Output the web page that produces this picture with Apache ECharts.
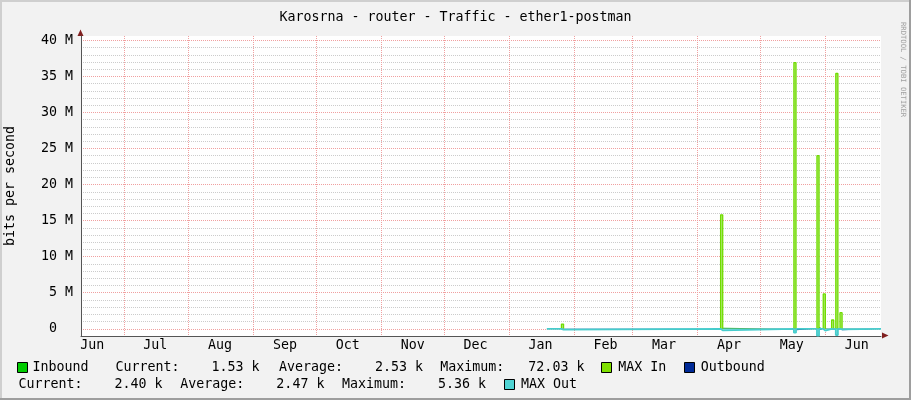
<!DOCTYPE html>
<html><head><meta charset="utf-8">
<script src="https://cdn.jsdelivr.net/npm/echarts@6/dist/echarts.min.js"></script>
<style>html,body{margin:0;padding:0;background:#f2f2f2;overflow:hidden}#c{width:911px;height:400px}</style>
</head><body><div id="c"></div>
<script>
// ---------------- data ----------------
const chartTitle = 'Karosrna - router - Traffic - ether1-postman';
const yAxisName = 'bits per second';
const sideNote = 'RRDTOOL / TOBI OETIKER';

const axisStart = '2024-06-10T14:00';
const axisEnd = '2025-06-27T14:00';
const monthStarts = ['2024-07-01','2024-08-01','2024-09-01','2024-10-01','2024-11-01','2024-12-01',
  '2025-01-01','2025-02-01','2025-03-01','2025-04-01','2025-05-01','2025-06-01'];
const monthLabelDates = ['2024-06-16','2024-07-16','2024-08-16','2024-09-16','2024-10-16','2024-11-16',
  '2024-12-16','2025-01-16','2025-02-16','2025-03-16','2025-04-16','2025-05-16','2025-06-16'];
const monthLabels = ['Jun','Jul','Aug','Sep','Oct','Nov','Dec','Jan','Feb','Mar','Apr','May','Jun'];

const yMajorValues = [0, 5e6, 10e6, 15e6, 20e6, 25e6, 30e6, 35e6, 40e6];
const yMajorLabels = ['0  ', '5 M', '10 M', '15 M', '20 M', '25 M', '30 M', '35 M', '40 M'];

// daily consolidated samples; each value holds until the next date (bits per second)
const trafficDates = ['2025-01-19','2025-01-26','2025-01-27','2025-04-12','2025-04-13','2025-05-17',
  '2025-05-18','2025-05-28','2025-05-29','2025-05-31','2025-06-01','2025-06-04','2025-06-05',
  '2025-06-06','2025-06-07','2025-06-08','2025-06-09','2025-06-27T14:00'];
const inboundAvg = [2500, 20000, 2500, 150000, 2500, 300000, 2500, 250000, 2500, 80000, 2500,
  20000, 2500, 300000, 2500, 40000, 2500, 1530];
const outboundAvg = [-2400, -90000, -2400, -200000, -2400, -200000, -2400, -200000, -2400, -200000, -2400,
  -60000, -2400, -200000, -2400, -200000, -2400, -2400];
const maxOut = [-5360, -120000, -5360, -220000, -5360, -540000, -5360, -960000, -5360, -260000, -5360,
  -60000, -5360, -860000, -5360, -80000, -5360, -5360];
// MAX In peaks (days above the ~3 k baseline), one consolidated day each
const maxInDates = ['2025-01-26','2025-04-12','2025-05-17','2025-05-28','2025-05-31','2025-06-04',
  '2025-06-06','2025-06-08'];
const maxInValues = [650000, 15800000, 36900000, 24000000, 4830000, 1220000, 35400000, 2240000];

const inboundStats = ['1.53 k', '2.53 k', '72.03 k'];
const outboundStats = ['2.40 k', '2.47 k', '5.36 k'];

// ---------------- helpers ----------------
const DAY = 86400000;
const ts = s => Date.parse(s.length === 10 ? s + 'T00:00:00Z' : s + ':00Z');
// hold each sample until the next sample time (RRD-style steps)
function holdSteps(arr) {
  const out = [];
  for (let i = 0; i < trafficDates.length - 1; i++) {
    out.push([ts(trafficDates[i]), arr[i]], [ts(trafficDates[i + 1]), arr[i]]);
  }
  return out;
}
const maxInData = [];
maxInDates.forEach((d, i) => {
  const t = ts(d);
  maxInData.push([t, 0], [t, maxInValues[i]], [t + DAY, maxInValues[i]], [t + DAY, 0], [t + DAY, null]);
});
const FONT = '"DejaVu Sans Mono", monospace';
const fnt = (sz) => sz + 'px ' + FONT;
const stat = (label, v) => label + v.padStart(10, ' ');
const labelTs = monthLabelDates.map(ts);

const chart = echarts.init(document.getElementById('c'), null, {renderer: 'canvas'});

function txt(x, y, text, extra) {
  return Object.assign({type: 'text', x: x, y: y, silent: true,
    style: {text: text, font: fnt(13.3), fill: '#000', verticalAlign: 'middle', textVerticalAlign: 'middle',
      align: 'left', textAlign: 'left'}}, extra || {});
}
function box(x, y, color) {
  return {type: 'rect', silent: true, shape: {x: x, y: y, width: 10, height: 10},
    style: {fill: color, stroke: '#000', lineWidth: 1}};
}
const COL = {inbound: '#00cc00', maxIn: '#7fe000', outbound: '#002a97', maxOut: '#50d4d4'};

const option = {
  animation: false,
  backgroundColor: '#f2f2f2',
  title: {text: chartTitle, left: 'center', top: 6,
    textStyle: {fontFamily: FONT, fontSize: 13.3, fontWeight: 'normal', color: '#000'}},
  grid: {left: 81, right: 30, top: 36, height: 300, show: true, backgroundColor: '#ffffff', borderWidth: 0,
    outerBoundsMode: 'none', containLabel: false},
  xAxis: {
    type: 'value', min: ts(axisStart), max: ts(axisEnd),
    axisLine: {show: true, onZero: false, lineStyle: {color: '#555', width: 1}},
    axisTick: {show: false, customValues: monthStarts.map(ts)},
    splitLine: {show: true, lineStyle: {color: '#f0a0a0', type: [1, 1], width: 1}},
    axisLabel: {customValues: labelTs, margin: 3, fontFamily: FONT, fontSize: 13.3, color: '#000',
      formatter: function (v) { const i = labelTs.indexOf(v); return i >= 0 ? monthLabels[i] : ''; }}
  },
  yAxis: {
    type: 'value', min: -1e6, max: 40.6e6, interval: 1e6,
    name: yAxisName, nameLocation: 'middle', nameRotate: 90, nameGap: 64,
    nameTextStyle: {fontFamily: FONT, fontSize: 13.3, color: '#000'},
    axisLine: {show: true, lineStyle: {color: '#555', width: 1}},
    axisTick: {show: false},
    splitLine: {show: true, showMaxLine: false,
      lineStyle: {color: ['#cccccc', '#f0a0a0', '#cccccc', '#cccccc', '#cccccc'], type: [1, 1], width: 1}},
    axisLabel: {margin: 8, fontFamily: FONT, fontSize: 13.3, color: '#000',
      formatter: function (v) { const i = yMajorValues.indexOf(Math.round(v)); return i >= 0 ? yMajorLabels[i] : ''; }}
  },
  series: [
    {name: 'Inbound', type: 'line', data: holdSteps(inboundAvg), showSymbol: false,
      lineStyle: {width: 0}, areaStyle: {color: COL.inbound, opacity: 1}},
    {name: 'MAX In', type: 'line', data: maxInData, showSymbol: false, connectNulls: false,
      lineStyle: {width: 1.3, color: '#70dc00'}, areaStyle: {color: '#b4ea78', opacity: 1}},
    {name: 'Outbound', type: 'line', data: holdSteps(outboundAvg), showSymbol: false,
      lineStyle: {width: 0}, areaStyle: {color: COL.outbound, opacity: 1}},
    {name: 'MAX Out', type: 'line', data: holdSteps(maxOut), showSymbol: false, z: 3,
      lineStyle: {width: 1.8, color: '#46cccc'}, areaStyle: {color: '#9fe4e4', opacity: 1}}
  ],
  graphic: {elements: [
    {type: 'rect', silent: true, shape: {x: 0, y: 0, width: 911, height: 2}, style: {fill: '#cfcfcf'}},
    {type: 'rect', silent: true, shape: {x: 0, y: 0, width: 2, height: 400}, style: {fill: '#cfcfcf'}},
    {type: 'rect', silent: true, shape: {x: 909, y: 0, width: 2, height: 400}, style: {fill: '#9e9e9e'}},
    {type: 'rect', silent: true, shape: {x: 0, y: 398, width: 911, height: 2}, style: {fill: '#9e9e9e'}},
    {type: 'polygon', silent: true, shape: {points: [[77.5, 36], [80.5, 29.5], [83.5, 36]]}, style: {fill: '#801f1f'}},
    {type: 'polygon', silent: true, shape: {points: [[882, 332.5], [888.5, 335.5], [882, 338.5]]}, style: {fill: '#801f1f'}},
    txt(903, 22, sideNote, {rotation: -Math.PI / 2, style: {text: sideNote, font: fnt(7.2), fill: '#a0a0a0',
      verticalAlign: 'middle', textVerticalAlign: 'middle', align: 'left', textAlign: 'left'}}),
    box(17.5, 362.5, COL.inbound), txt(32.5, 368, 'Inbound'),
    txt(115.5, 368, stat('Current:', inboundStats[0])), txt(279, 368, stat('Average:', inboundStats[1])),
    txt(440.3, 368, stat('Maximum:', inboundStats[2])),
    box(601.5, 362.5, COL.maxIn), txt(618.3, 368, 'MAX In'),
    box(684.5, 362.5, COL.outbound), txt(700.8, 368, 'Outbound'),
    txt(18.5, 385, stat('Current:', outboundStats[0])), txt(180.3, 385, stat('Average:', outboundStats[1])),
    txt(341.9, 385, stat('Maximum:', outboundStats[2])),
    box(504.5, 379.5, COL.maxOut), txt(521, 385, 'MAX Out')
  ]}
};
chart.setOption(option);
</script></body></html>
